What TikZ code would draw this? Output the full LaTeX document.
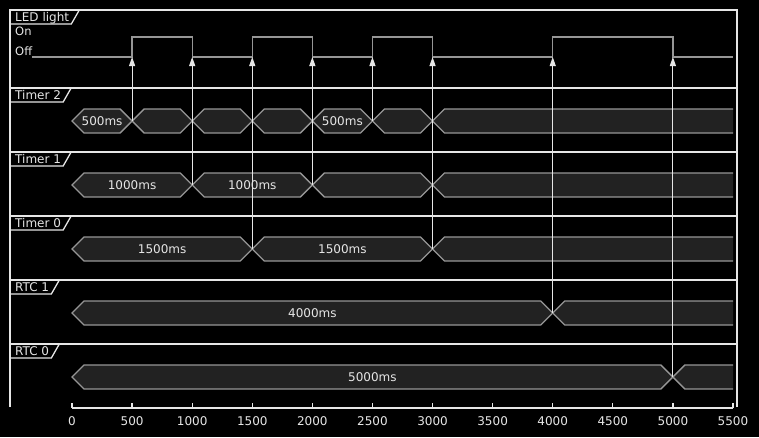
\documentclass[tikz,border=0pt]{standalone}
\usepackage{fontspec}
\setmainfont{DejaVu Sans}
\usepackage{xcolor}
\usepackage{tikz}
\usetikzlibrary{
	arrows.meta,
	calc
}
\definecolor{WaveGray}{RGB}{150,150,150}
\definecolor{BarFill}{RGB}{34,34,34}
\definecolor{FrameWhite}{RGB}{230,230,230}

% time in ms -> x in px
\newcommand{\tms}[1]{72+(#1)*0.12018}
% one closed value: name, from, to, text
\newcommand{\hexbar}[4]{%
	\draw[bar] ({\tms{#2}},0) -- ++(12,-12) -- ({\tms{#3}-12},-12) -- ({\tms{#3}},0)
		-- ({\tms{#3}-12},12) -- ({\tms{#2}+12},12) -- cycle;
	\node[val] (#1) at ({\tms{(#2+#3)/2}},0) {#4};}
% last value, open to the right
\newcommand{\openbar}[1]{%
	\fill[BarFill] ({\tms{#1}},0) -- ++(12,-12) -- (733,-12) -- (733,12) -- ({\tms{#1}+12},12) -- cycle;
	\draw[wave] (733,-12) -- ({\tms{#1}+12},-12) -- ({\tms{#1}},0) -- ({\tms{#1}+12},12) -- (733,12);}

\begin{document}
\begin{tikzpicture}[x=1pt, y=-1pt,
		wave/.style={WaveGray, line width=1.3pt},
		bar/.style={WaveGray, line width=1.3pt, fill=BarFill},
		frame/.style={FrameWhite, line width=1.3pt},
		val/.style={text=FrameWhite, font=\fontsize{12}{14}\selectfont, inner sep=0pt},
		lbl/.style={text=FrameWhite, font=\fontsize{12}{14}\selectfont, inner sep=0pt, anchor=base west},
		trig/.style={FrameWhite, line width=1pt, -{Triangle[width=6pt, length=9pt]}}]
	\fill[black] (0,0) rectangle (759,437);
	\useasboundingbox (0,0) rectangle (759,437);
	% frame
	\draw[frame] (10,407) -- (10,10) -- (737,10) -- (737,407);
	\foreach \name/\y [count=\i] in {LED light/10, Timer 2/88, Timer 1/152, Timer 0/216, RTC 1/280, RTC 0/344} {
		\draw[frame] (10,\y) -- (737,\y);
		\node[lbl] (row\i) at (15,{\y+11}) {\name};
		\draw[frame] (10,{\y+14}) -- ($(row\i.base east)+(2,3)$) -- ++(8,-14);
	}
	% LED light
	\node[lbl, font=\fontsize{11.5}{13}\selectfont] (on) at (15,35) {On};
	\node[lbl, font=\fontsize{11.5}{13}\selectfont] (off) at (15,55) {Off};
	\draw[wave] (32,57) -| ({\tms{500}},37) -| ({\tms{1000}},57) -| ({\tms{1500}},37) -| ({\tms{2000}},57)
		-| ({\tms{2500}},37) -| ({\tms{3000}},57) -| ({\tms{4000}},37) -| ({\tms{5000}},57) -- (733,57);
	% Timer 2
	\begin{scope}[shift={(0,121)}]
		\hexbar{tA}{0}{500}{500ms}
		\hexbar{tB}{500}{1000}{}
		\hexbar{tC}{1000}{1500}{}
		\hexbar{tD}{1500}{2000}{}
		\hexbar{tE}{2000}{2500}{500ms}
		\hexbar{tF}{2500}{3000}{}
		\openbar{3000}
	\end{scope}
	% Timer 1
	\begin{scope}[shift={(0,185)}]
		\hexbar{uA}{0}{1000}{1000ms}
		\hexbar{uB}{1000}{2000}{1000ms}
		\hexbar{uC}{2000}{3000}{}
		\openbar{3000}
	\end{scope}
	% Timer 0
	\begin{scope}[shift={(0,249)}]
		\hexbar{vA}{0}{1500}{1500ms}
		\hexbar{vB}{1500}{3000}{1500ms}
		\openbar{3000}
	\end{scope}
	% RTC 1
	\begin{scope}[shift={(0,313)}]
		\hexbar{rA}{0}{4000}{4000ms}
		\openbar{4000}
	\end{scope}
	% RTC 0
	\begin{scope}[shift={(0,377)}]
		\hexbar{sA}{0}{5000}{5000ms}
		\openbar{5000}
	\end{scope}
	% triggers
	\foreach \t/\y in {500/121, 1000/185, 1500/249, 2000/185, 2500/121, 3000/249, 4000/313, 5000/377} {
		\coordinate (src\t) at ({\tms{\t}},\y);
		\coordinate (led\t) at ({\tms{\t}},57);
		\draw[trig] (src\t) -- (led\t);
	}
	% time axis
	\draw[frame] (72,408) -- (733,408);
	\foreach \t in {0,500,...,5500} {
		\draw[frame] ({\tms{\t}},403) -- ({\tms{\t}},408);
		\node[val, anchor=base] (tick\t) at ({\tms{\t}},425) {\t};
	}
\end{tikzpicture}
\end{document}
